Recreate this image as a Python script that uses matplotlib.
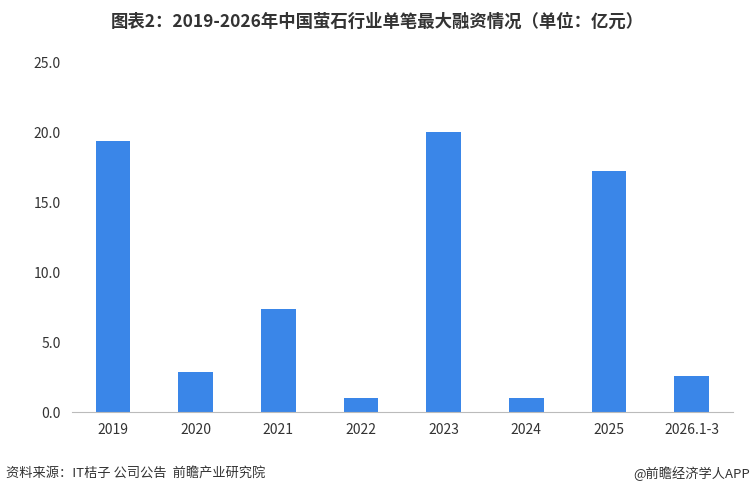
import matplotlib.pyplot as plt

plt.rcParams['font.family'] = ['Noto Sans CJK SC', 'DejaVu Sans']

years = ['2019', '2020', '2021', '2022', '2023', '2024', '2025', '2026.1-3']
amounts = [19.4, 2.9, 7.4, 1.0, 20.0, 1.0, 17.2, 2.6]

fig = plt.figure(figsize=(7.54, 4.93), dpi=100)
ax = fig.add_axes([0.095, 0.164, 0.877, 0.71])
ax.bar(range(len(years)), amounts, width=0.42, color='#3a86e8')

ax.set_ylim(0, 25)
ax.set_yticks([0, 5, 10, 15, 20, 25])
ax.set_yticklabels([f'{v:.1f}' for v in [0, 5, 10, 15, 20, 25]])
ax.set_xticks(range(len(years)))
ax.set_xticklabels(years)
ax.set_xlim(-0.5, len(years) - 0.5)
ax.tick_params(length=0, labelsize=10, colors='#333333', pad=8)
for s in ['top', 'right', 'left']:
    ax.spines[s].set_visible(False)
ax.spines['bottom'].set_color('#bbbbbb')

fig.text(0.5, 0.955, '图表2：2019-2026年中国萤石行业单笔最大融资情况（单位：亿元）',
         ha='center', va='center', fontsize=12.5, fontweight='bold', color='#333333')
fig.text(0.008, 0.04, '资料来源：IT桔子 公司公告  前瞻产业研究院', ha='left', va='center',
         fontsize=9.5, color='#333333')
fig.text(0.995, 0.04, '@前瞻经济学人APP', ha='right', va='center', fontsize=9.5, color='#333333')

fig.savefig('out.png', dpi=100)
